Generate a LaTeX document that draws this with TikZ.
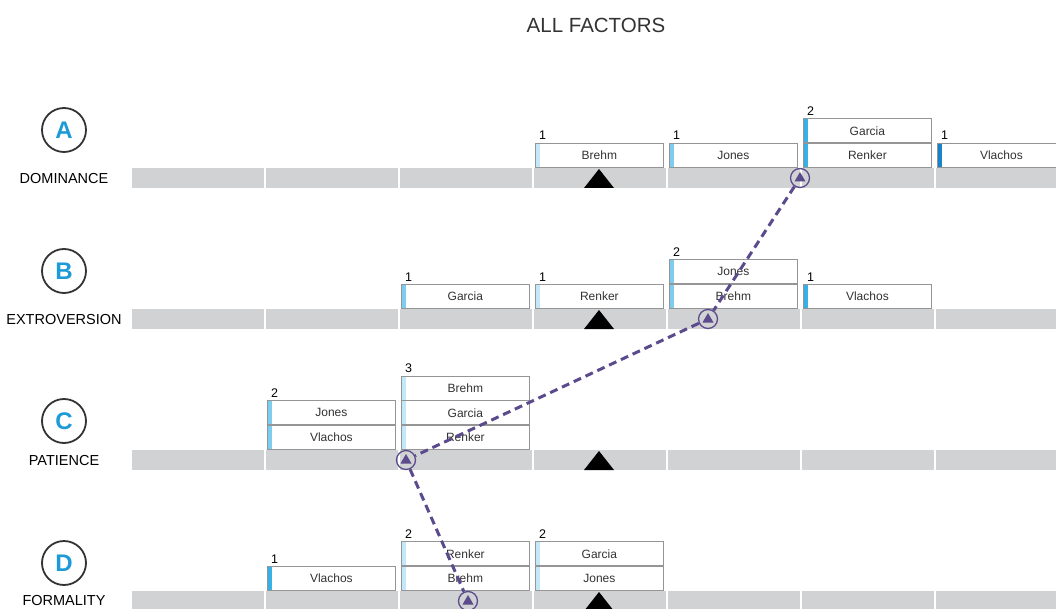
\documentclass[tikz,border=0pt]{standalone}
\usepackage{fontspec}
\setmainfont{Liberation Sans}
\usetikzlibrary{positioning,calc}
\definecolor{barGray}{HTML}{D1D2D4}
\definecolor{boxGray}{HTML}{959595}
\definecolor{inkGray}{HTML}{333333}
\definecolor{letterBlue}{HTML}{1E9AD6}
\definecolor{stripeBlue}{HTML}{34B0E6}
\definecolor{stripeDark}{HTML}{1582C8}
\colorlet{stripeMid}{stripeBlue!65!white}
\colorlet{stripePale}{stripeBlue!30!white}
\definecolor{trailPurple}{HTML}{5B4A8C}
\tikzset{
  font=\fontsize{12}{14}\selectfont,
  title/.style={
    font=\fontsize{20.5}{24}\selectfont,
    text=inkGray
  },
  factorcircle/.style={
    circle,
    draw=inkGray,
    line width=1.8pt,
    minimum size=44pt,
    inner sep=0pt,
    text=letterBlue,
    font=\fontsize{24}{26}\selectfont\bfseries
  },
  factorname/.style={
    font=\fontsize{14.5}{16}\selectfont,
    text=black
  },
  namebox/.style={
    draw=boxGray,
    fill=white,
    line width=0.8pt,
    minimum width=128pt,
    minimum height=24pt,
    inner sep=0pt,
    text=inkGray,
    path picture={
      \shade[left color=#1, right color=#1!15!white]
        (path picture bounding box.south west)
        rectangle ([xshift=4pt]path picture bounding box.north west);
    }
  },
  namebox/.default=stripeBlue,
  countlbl/.style={
    font=\fontsize{12.5}{14}\selectfont,
    inner sep=1pt,
    anchor=south west,
    yshift=2pt,
    text=black
  },
  marker/.style={
    circle,
    draw=trailPurple,
    line width=1.3pt,
    minimum size=19pt,
    inner sep=0pt
  },
  trail/.style={trailPurple, line width=3pt, dash pattern=on 8pt off 5pt}
}

\begin{document}
\begin{tikzpicture}[x=1pt, y=-1pt]
\useasboundingbox (0,0) rectangle (1056,609);

\node[title] (title) at (596,25) {ALL FACTORS};

% Factor circles and names
\node[factorcircle] (A) at (64,130) {A};
\node[factorname] (A-name) at (64,179) {DOMINANCE};
\node[factorcircle] (B) at (64,271) {B};
\node[factorname] (B-name) at (64,320) {EXTROVERSION};
\node[factorcircle] (C) at (64,421) {C};
\node[factorname] (C-name) at (64,461) {PATIENCE};
\node[factorcircle] (D) at (64,563) {D};
\node[factorname] (D-name) at (64,601) {FORMALITY};

% Scale bars with cell separators
\foreach \y in {168,309,450,591} {
  \fill[barGray] (132,\y) rectangle (1056,\y+20);
  \foreach \x in {265,399,...,935}
    \draw[white, line width=1.5pt] (\x,\y) -- (\x,\y+20);
}

% Mean triangles
\foreach \y in {188,329,470,611}
  \fill[black] (584,\y) -- (614,\y) -- (599,\y-19) -- cycle;

% Row A
\node[namebox=stripePale, anchor=south west] (A-brehm) at (535,168) {Brehm};
\node[namebox=stripeMid, anchor=south west] (A-jones) at (669,168) {Jones};
\node[namebox=stripeBlue, anchor=south west] (A-renker) at (803,168) {Renker};
\node[namebox=stripeBlue, above=0pt of A-renker] (A-garcia) {Garcia};
\node[namebox=stripeDark, anchor=south west] (A-vlachos) at (937,168) {Vlachos};
\node[countlbl] at ([xshift=3pt]A-brehm.north west) {1};
\node[countlbl] at ([xshift=3pt]A-jones.north west) {1};
\node[countlbl] at ([xshift=3pt]A-garcia.north west) {2};
\node[countlbl] at ([xshift=3pt]A-vlachos.north west) {1};

% Row B
\node[namebox=stripeMid, anchor=south west] (B-garcia) at (401,309) {Garcia};
\node[namebox=stripePale, anchor=south west] (B-renker) at (535,309) {Renker};
\node[namebox=stripeMid, anchor=south west] (B-brehm) at (669,309) {Brehm};
\node[namebox=stripeMid, above=0pt of B-brehm] (B-jones) {Jones};
\node[namebox=stripeBlue, anchor=south west] (B-vlachos) at (803,309) {Vlachos};
\node[countlbl] at ([xshift=3pt]B-garcia.north west) {1};
\node[countlbl] at ([xshift=3pt]B-renker.north west) {1};
\node[countlbl] at ([xshift=3pt]B-jones.north west) {2};
\node[countlbl] at ([xshift=3pt]B-vlachos.north west) {1};

% Row C
\node[namebox=stripeMid, anchor=south west] (C-vlachos) at (267,450) {Vlachos};
\node[namebox=stripeMid, above=0pt of C-vlachos] (C-jones) {Jones};
\node[namebox=stripePale, anchor=south west] (C-renker) at (401,450) {Renker};
\node[namebox=stripePale, above=0pt of C-renker] (C-garcia) {Garcia};
\node[namebox=stripePale, above=0pt of C-garcia] (C-brehm) {Brehm};
\node[countlbl] at ([xshift=3pt]C-jones.north west) {2};
\node[countlbl] at ([xshift=3pt]C-brehm.north west) {3};

% Row D
\node[namebox=stripeBlue, anchor=south west] (D-vlachos) at (267,591) {Vlachos};
\node[namebox=stripePale, anchor=south west] (D-brehm) at (401,591) {Brehm};
\node[namebox=stripePale, above=0pt of D-brehm] (D-renker) {Renker};
\node[namebox=stripePale, anchor=south west] (D-jones) at (535,591) {Jones};
\node[namebox=stripePale, above=0pt of D-jones] (D-garcia) {Garcia};
\node[countlbl] at ([xshift=3pt]D-vlachos.north west) {1};
\node[countlbl] at ([xshift=3pt]D-renker.north west) {2};
\node[countlbl] at ([xshift=3pt]D-garcia.north west) {2};

% Position markers
\node[marker] (A-mark) at (800,178) {};
\node[marker] (B-mark) at (708,319) {};
\node[marker] (C-mark) at (406,460) {};
\node[marker] (D-mark) at (468,601) {};
\foreach \m in {A,B,C,D}
  \fill[trailPurple] ($(\m-mark)+(-5.5,3.5)$) -- ($(\m-mark)+(5.5,3.5)$) -- ($(\m-mark)+(0,-6)$) -- cycle;

% Trail between markers
\draw[trail] (A-mark) -- (B-mark) -- (C-mark) -- (D-mark);

\end{tikzpicture}
\end{document}
